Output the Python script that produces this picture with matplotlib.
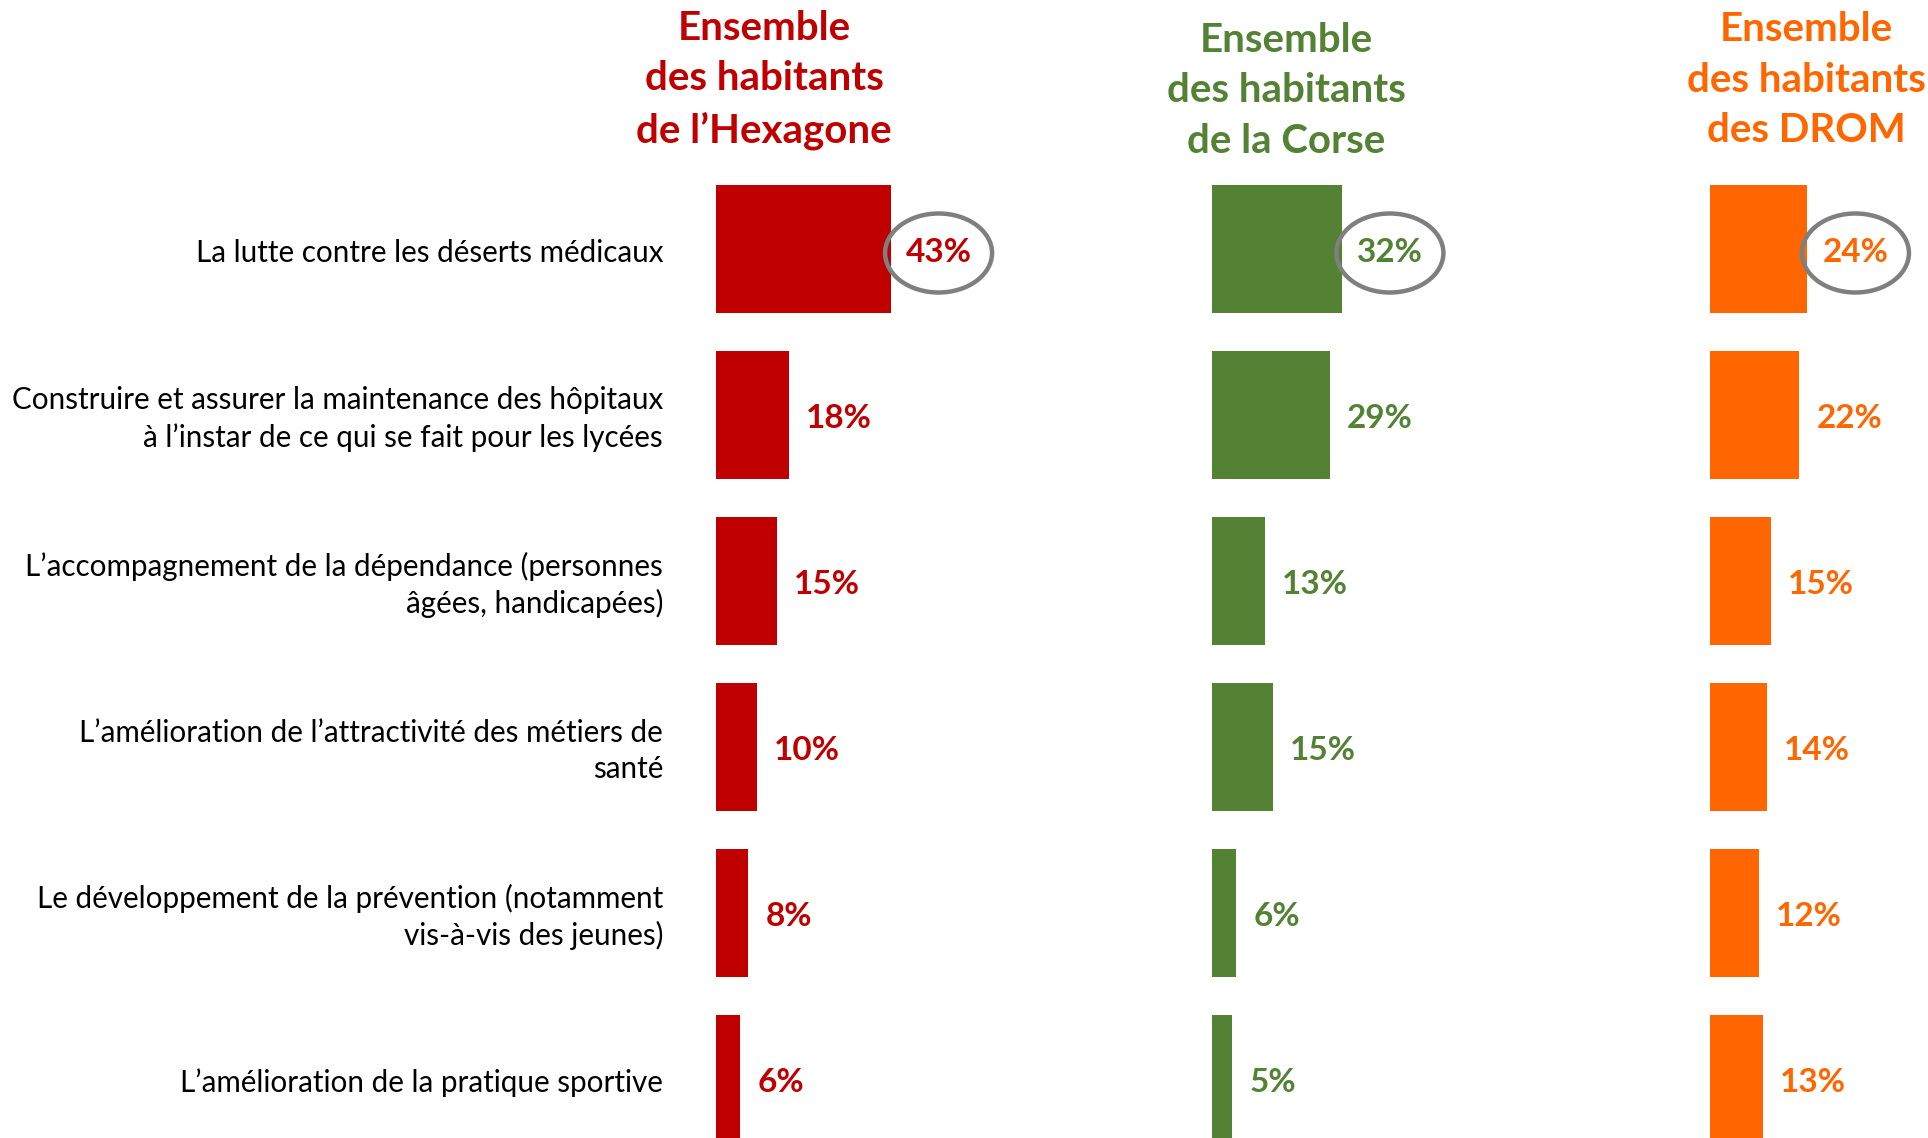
import matplotlib
matplotlib.use('Agg')
import matplotlib.pyplot as plt
from matplotlib.patches import Ellipse

# --- data ---
categories = [
    "La lutte contre les déserts médicaux",
    "Construire et assurer la maintenance des hôpitaux\nà l’instar de ce qui se fait pour les lycées",
    "L’accompagnement de la dépendance (personnes\nâgées, handicapées)",
    "L’amélioration de l’attractivité des métiers de\nsanté",
    "Le développement de la prévention (notamment\nvis-à-vis des jeunes)",
    "L’amélioration de la pratique sportive",
]
groups = ["Ensemble\ndes habitants\nde l’Hexagone",
          "Ensemble\ndes habitants\nde la Corse",
          "Ensemble\ndes habitants\ndes DROM"]
hexagone = [43, 18, 15, 10, 8, 6]
corse = [32, 29, 13, 15, 6, 5]
drom = [24, 22, 15, 14, 12, 13]
series = [hexagone, corse, drom]
colors = ["#C00000", "#548235", "#FF6600"]
circled = 0  # row with the ellipse highlight

plt.rcParams['font.family'] = ['Lato', 'DejaVu Sans']

W, H = 1928, 1138
fig = plt.figure(figsize=(W / 100, H / 100), dpi=100)

px_per_pct = 4.06
row_px = 166
bar_left = [716, 1212, 1710]
header_x = [764, 1286, 1806]
header_y = [80, 91, 80]
ax_w = 200
ax_top = 166
dy = -4  # small downward nudge for text (offset pixels)

for k, vals in enumerate(series):
    ax = fig.add_axes([bar_left[k] / W, 0, ax_w / W, (H - ax_top) / H])
    ax.set_xlim(0, ax_w / px_per_pct)
    ax.set_ylim((H - ax_top) / row_px - 0.5, -0.5)
    ax.axis('off')
    ax.barh(range(len(vals)), vals, height=128 / row_px, color=colors[k])
    for i, v in enumerate(vals):
        if i == circled:
            cx = v + 48 / px_per_pct
            ax.add_patch(Ellipse((cx, i + 4 / row_px), 107 / px_per_pct, 79 / row_px,
                                 facecolor='none', edgecolor='#7F7F7F', lw=3.2,
                                 clip_on=False, zorder=3))
            ax.annotate(f"{v}%", xy=(cx, i), xytext=(0, dy), textcoords='offset pixels',
                        ha='center', va='center', color=colors[k],
                        fontsize=24, fontweight='bold', annotation_clip=False)
        else:
            ax.annotate(f"{v}%", xy=(v, i), xytext=(17, dy), textcoords='offset pixels',
                        ha='left', va='center', color=colors[k],
                        fontsize=24, fontweight='bold', annotation_clip=False)
    if k == 0:
        for i, c in enumerate(categories):
            ax.annotate(c, xy=(0, i), xytext=(-53, dy), textcoords='offset pixels',
                        ha='right', va='center', fontsize=21.3, color='black',
                        linespacing=1.36, annotation_clip=False)
    fig.text(header_x[k] / W, 1 - header_y[k] / H, groups[k], ha='center', va='center',
             color=colors[k], fontsize=29, fontweight='bold', linespacing=1.46)

fig.savefig('out.png', dpi=100)
